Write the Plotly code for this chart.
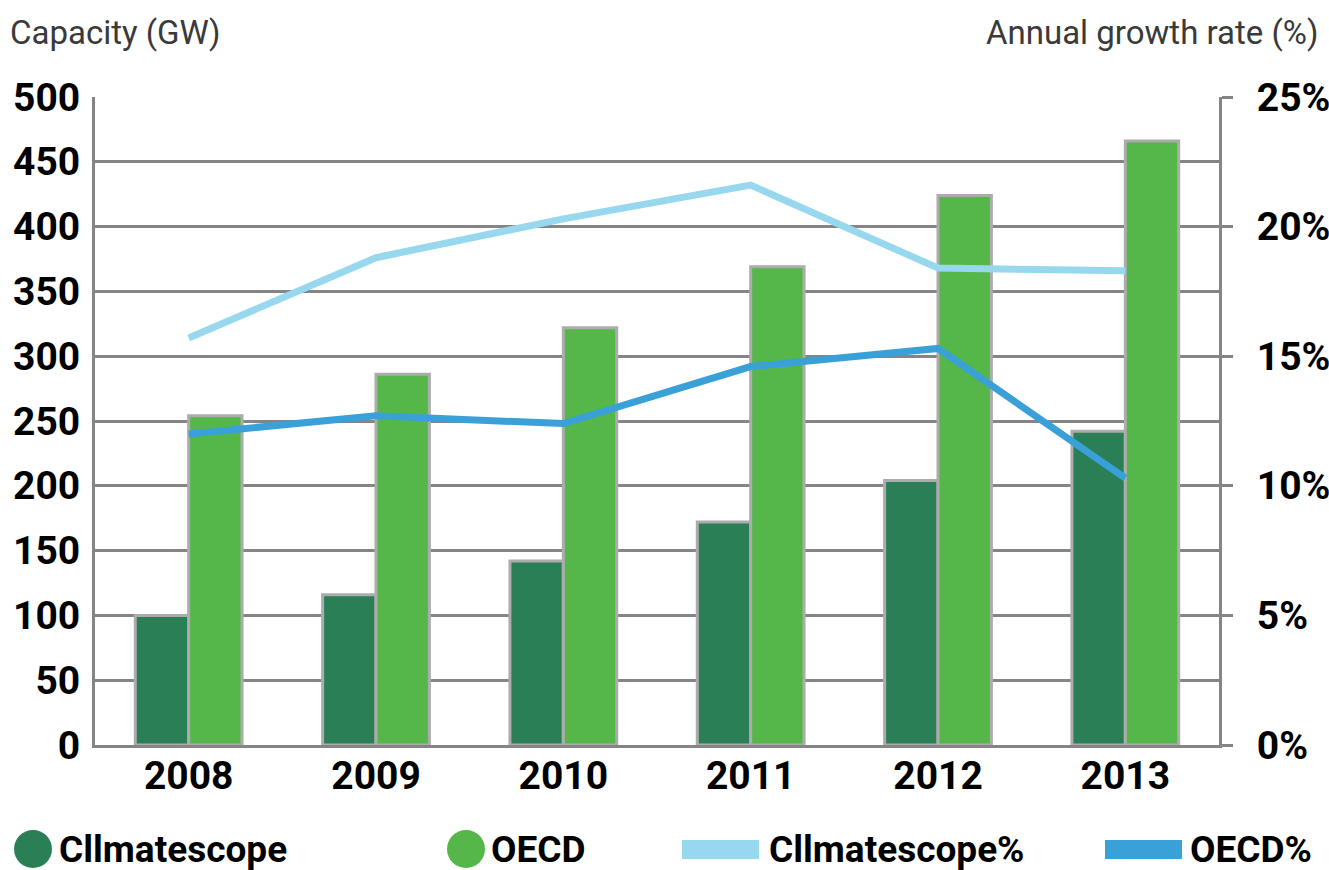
import plotly.graph_objects as go

# data
years = ["2008", "2009", "2010", "2011", "2012", "2013"]
climatescope_gw = [100, 116, 142, 172, 204, 242]
oecd_gw = [254, 286, 322, 369, 424, 466]
climatescope_pct = [15.7, 18.8, 20.3, 21.6, 18.4, 18.3]
oecd_pct = [12.0, 12.7, 12.4, 14.6, 15.3, 10.3]

series_names = ["Cllmatescope", "OECD", "Cllmatescope%", "OECD%"]

DARK_GREEN = "#2b7f57"
GREEN = "#55b74a"
LIGHT_BLUE = "#97d8ef"
BLUE = "#3aa0d8"
GRID = "#858585"
OUTLINE = "#acacac"
FONT = "Roboto"

W, H = 1329, 870
L, R, T, B = 95, 110, 97, 125


def px_x(x):
    return (x - L) / (W - L - R)


def px_y(y):
    return (H - B - y) / (H - T - B)


fig = go.Figure()

fig.add_trace(go.Bar(x=years, y=climatescope_gw, name=series_names[0], marker_color=DARK_GREEN,
                     marker_line=dict(color=OUTLINE, width=3), showlegend=False))
fig.add_trace(go.Bar(x=years, y=oecd_gw, name=series_names[1], marker_color=GREEN,
                     marker_line=dict(color=OUTLINE, width=3), showlegend=False))
fig.add_trace(go.Scatter(x=years, y=climatescope_pct, name=series_names[2], mode="lines",
                         line=dict(color=LIGHT_BLUE, width=7), yaxis="y2", showlegend=False))
fig.add_trace(go.Scatter(x=years, y=oecd_pct, name=series_names[3], mode="lines",
                         line=dict(color=BLUE, width=7), yaxis="y2", showlegend=False))

tick_font = dict(family=FONT, size=39, color="#000000", weight="bold")

fig.update_layout(
    width=W,
    height=H,
    margin=dict(l=L, r=R, t=T, b=B, autoexpand=False),
    plot_bgcolor="white",
    paper_bgcolor="white",
    barmode="group",
    bargap=0.43,
    bargroupgap=0,
    font=dict(family=FONT),
    xaxis=dict(type="category", showline=True, linecolor=GRID, linewidth=3, ticks="",
               tickfont=tick_font, showgrid=False, ticklabelstandoff=-6),
    yaxis=dict(range=[0, 500], dtick=50, showgrid=True, gridcolor=GRID, gridwidth=3,
               showline=True, linecolor=GRID, linewidth=3, zeroline=False, ticks="",
               tickfont=tick_font, ticklabelstandoff=4),
    yaxis2=dict(range=[0, 25], dtick=5, overlaying="y", side="right", ticksuffix="%",
                showgrid=False, zeroline=False, showline=True, linecolor=GRID, linewidth=3,
                ticks="outside", ticklen=11, tickwidth=3, tickcolor=GRID,
                tickfont=tick_font, ticklabelstandoff=16),
)

# axis titles above the plot
title_font = dict(family=FONT, size=33, color="#3a3a3a")
fig.add_annotation(text="Capacity (GW)", x=px_x(8), y=px_y(32), xref="paper", yref="paper",
                   xanchor="left", yanchor="middle", showarrow=False, font=title_font)
fig.add_annotation(text="Annual growth rate (%)", x=px_x(1320), y=px_y(32), xref="paper",
                   yref="paper", xanchor="right", yanchor="middle", showarrow=False,
                   font=title_font)

# legend along the bottom: circles for bars, thick strokes for lines
legend_font = dict(family=FONT, size=37, color="#000000", weight="bold")
ly = 849
swatches = [
    ("circle", 33, DARK_GREEN, 57),
    ("circle", 466, GREEN, 489),
    ("line", 682, LIGHT_BLUE, 767),
    ("line", 1105, BLUE, 1188),
]
for name, (kind, sx, color, tx) in zip(series_names, swatches):
    if kind == "circle":
        fig.add_shape(type="circle", xref="paper", yref="paper",
                      x0=px_x(sx - 19), x1=px_x(sx + 19), y0=px_y(ly + 19), y1=px_y(ly - 19),
                      fillcolor=color, line_width=0)
    else:
        fig.add_shape(type="rect", xref="paper", yref="paper",
                      x0=px_x(sx), x1=px_x(sx + 77), y0=px_y(ly + 10), y1=px_y(ly - 9),
                      fillcolor=color, line_width=0)
    fig.add_annotation(text=name, x=px_x(tx), y=px_y(ly), xref="paper", yref="paper",
                       xanchor="left", yanchor="middle", showarrow=False, font=legend_font)

fig.write_html("out.html", config={"displayModeBar": False},
               post_script="document.body.style.margin = '0';")
